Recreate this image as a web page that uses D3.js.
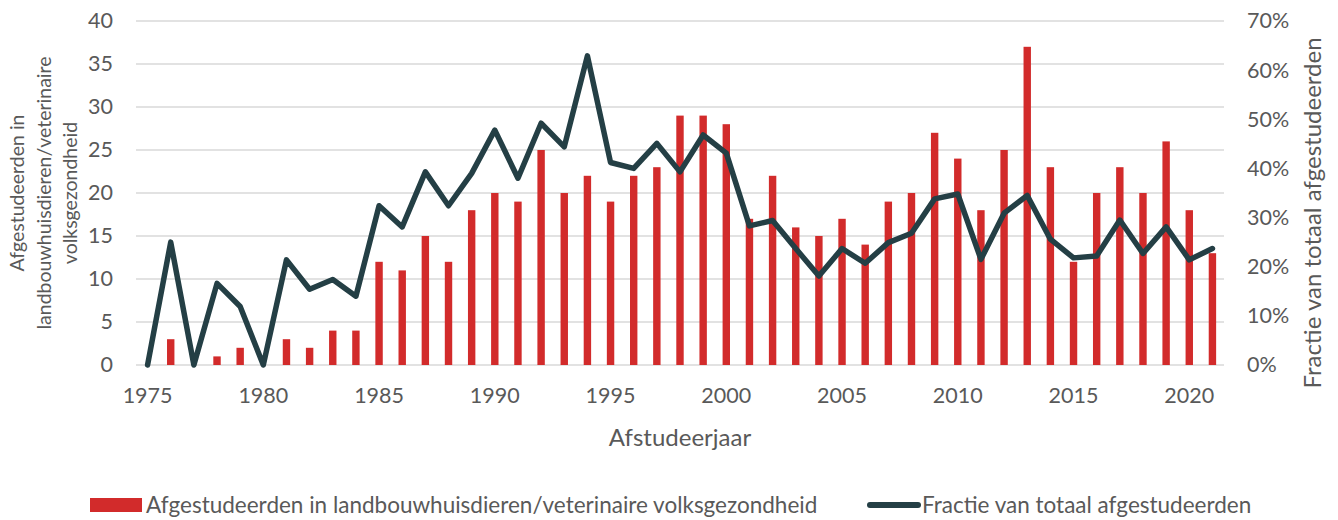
<!DOCTYPE html>
<html>
<head>
<meta charset="utf-8">
<script src="https://cdn.jsdelivr.net/npm/d3@7"></script>
<style>
  body { margin: 0; background: #fff; }
  svg text { font-family: Lato, "Open Sans", sans-serif; fill: #595959; }
</style>
</head>
<body>
<div id="chart"></div>
<script>
// Afstudeerjaren 1975-2021
const years = d3.range(1975, 2022);

// Aantal afgestudeerden in landbouwhuisdieren/veterinaire volksgezondheid
const graduates = [0, 3, 0, 1, 2, 0, 3, 2, 4, 4,
  12, 11, 15, 12, 18, 20, 19, 25, 20, 22,
  19, 22, 23, 29, 29, 28, 17, 22, 16, 15,
  17, 14, 19, 20, 27, 24, 18, 25, 37, 23,
  12, 20, 23, 20, 26, 18, 13];

// Fractie van totaal afgestudeerden
const fraction = [0, 0.25, 0, 0.166, 0.119, 0, 0.214, 0.154, 0.174, 0.140,
  0.324, 0.281, 0.393, 0.324, 0.390, 0.478, 0.380, 0.492, 0.444, 0.629,
  0.412, 0.400, 0.451, 0.393, 0.468, 0.431, 0.283, 0.294, 0.237, 0.181,
  0.237, 0.207, 0.249, 0.268, 0.338, 0.348, 0.215, 0.309, 0.345, 0.256,
  0.218, 0.222, 0.295, 0.227, 0.281, 0.214, 0.237];

const leftTicks = [0, 5, 10, 15, 20, 25, 30, 35, 40];
const rightTicks = [0, 0.1, 0.2, 0.3, 0.4, 0.5, 0.6, 0.7];
const yearTicks = [1975, 1980, 1985, 1990, 1995, 2000, 2005, 2010, 2015, 2020];

const width = 1338, height = 520;
const margin = {top: 21, right: 114, bottom: 155, left: 136};
const tickFont = 21.5;

const svg = d3.select('#chart').append('svg')
  .attr('width', width)
  .attr('height', height);

const x = d3.scaleBand()
  .domain(years)
  .range([margin.left, width - margin.right]);

const yLeft = d3.scaleLinear().domain([0, 40]).range([height - margin.bottom, margin.top]);
const yRight = d3.scaleLinear().domain([0, 0.7]).range([height - margin.bottom, margin.top]);

// gridlines
svg.append('g')
  .selectAll('line')
  .data(leftTicks)
  .enter().append('line')
    .attr('x1', margin.left)
    .attr('x2', width - margin.right)
    .attr('y1', d => yLeft(d))
    .attr('y2', d => yLeft(d))
    .attr('stroke', '#d9d9d9')
    .attr('stroke-width', 1.3);

// bars
let barW = x.bandwidth() * 0.32;
svg.append('g')
  .selectAll('rect')
  .data(graduates)
  .enter().append('rect')
    .attr('x', (d, i) => x(years[i]) + (x.bandwidth() - barW) / 2)
    .attr('y', d => yLeft(d))
    .attr('width', barW)
    .attr('height', d => yLeft(0) - yLeft(d))
    .attr('fill', '#d22b2b');

// line
let line = d3.line()
  .x((d, i) => x(years[i]) + x.bandwidth() / 2)
  .y(d => yRight(d))
  .curve(d3.curveLinear);

svg.append('path')
  .datum(fraction)
  .attr('d', line)
  .attr('fill', 'none')
  .attr('stroke', '#243f45')
  .attr('stroke-width', 5.5)
  .attr('stroke-linejoin', 'round')
  .attr('stroke-linecap', 'round');

const styleTicks = sel => sel.selectAll('text')
  .attr('font-size', tickFont)
  .attr('fill', '#595959')
  .style('font-family', 'Lato, sans-serif');

// left axis
let leftAxis = d3.axisLeft(yLeft).tickValues(leftTicks).tickSize(0).tickPadding(0);
svg.append('g')
  .attr('transform', 'translate(' + (margin.left - 23) + ',0)')
  .call(leftAxis)
  .call(g => g.select('.domain').remove())
  .call(styleTicks);

// right axis
let rightAxis = d3.axisRight(yRight).tickValues(rightTicks).tickSize(0).tickPadding(0)
  .tickFormat(d3.format('.0%'));
svg.append('g')
  .attr('transform', 'translate(' + (width - margin.right + 23) + ',0)')
  .call(rightAxis)
  .call(g => g.select('.domain').remove())
  .call(styleTicks);

// bottom axis
let xAxis = d3.axisBottom(x).tickValues(yearTicks).tickSize(0).tickPadding(0);
svg.append('g')
  .attr('transform', 'translate(0,' + (height - margin.bottom + 23) + ')')
  .call(xAxis)
  .call(g => g.select('.domain').remove())
  .call(styleTicks);

// axis titles
svg.append('text')
  .attr('x', 680)
  .attr('y', 446)
  .attr('text-anchor', 'middle')
  .attr('font-size', 24)
  .text('Afstudeerjaar');

let leftTitle = svg.append('text')
  .attr('transform', 'translate(0,193) rotate(-90)')
  .attr('text-anchor', 'middle')
  .attr('font-size', 19.5);
['Afgestudeerden in', 'landbouwhuisdieren/veterinaire', 'volksgezondheid'].forEach((t, i) => {
  leftTitle.append('tspan')
    .attr('x', 0)
    .attr('y', 24 + i * 26.5)
    .text(t);
});

svg.append('text')
  .attr('transform', 'translate(1321,213) rotate(-90)')
  .attr('text-anchor', 'middle')
  .attr('font-size', 24)
  .text('Fractie van totaal afgestudeerden');

// legend
let legend = svg.append('g');
legend.append('rect')
  .attr('x', 90).attr('y', 498)
  .attr('width', 52).attr('height', 14)
  .attr('fill', '#d22b2b');
legend.append('text')
  .attr('x', 146).attr('y', 513)
  .attr('font-size', 22.5)
  .text('Afgestudeerden in landbouwhuisdieren/veterinaire volksgezondheid');
legend.append('line')
  .attr('x1', 870).attr('x2', 918)
  .attr('y1', 505).attr('y2', 505)
  .attr('stroke', '#243f45')
  .attr('stroke-width', 6)
  .attr('stroke-linecap', 'round');
legend.append('text')
  .attr('x', 922).attr('y', 513)
  .attr('font-size', 22.5)
  .text('Fractie van totaal afgestudeerden');
</script>
</body>
</html>
